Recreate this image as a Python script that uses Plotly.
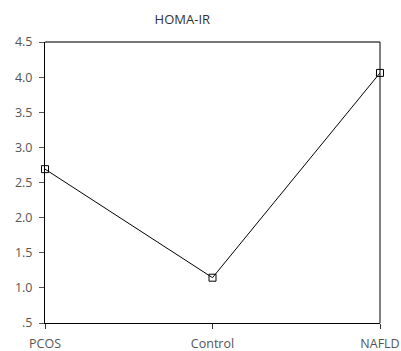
import plotly.graph_objects as go

categories = ["PCOS", "Control", "NAFLD"]
homa_ir = [2.69, 1.145, 4.06]
y_ticks = [0.5, 1.0, 1.5, 2.0, 2.5, 3.0, 3.5, 4.0, 4.5]
y_tick_labels = [".5", "1.0", "1.5", "2.0", "2.5", "3.0", "3.5", "4.0", "4.5"]

xpos = list(range(len(categories)))

fig = go.Figure()
fig.add_trace(go.Scatter(
    x=xpos, y=homa_ir, mode="lines+markers",
    line=dict(color="black", width=1),
    marker=dict(symbol="square-open", size=7, color="black", line=dict(width=1)),
    cliponaxis=False, showlegend=False,
))

font = dict(family="Open Sans, Noto Sans, sans-serif", size=12.5, color="#555555")

fig.update_layout(
    width=401, height=351,
    margin=dict(l=45, r=21, t=42, b=28),
    paper_bgcolor="white", plot_bgcolor="white",
    font=font,
    title=dict(text="HOMA-IR", x=0.41, xref="paper", xanchor="center",
               y=1 - 19/351, yref="container", yanchor="middle",
               font=dict(family="Open Sans, Noto Sans, sans-serif", size=13, color="#333333")),
    xaxis=dict(range=[0, len(categories) - 1], tickvals=xpos, ticktext=categories,
               showgrid=False, zeroline=False, showline=True, linecolor="black", linewidth=1,
               ticks="outside", ticklen=5, tickcolor="#333333", tickfont=font,
               ticklabelstandoff=4, automargin=False),
    yaxis=dict(range=[0.5, 4.5], tickvals=y_ticks, ticktext=y_tick_labels,
               showgrid=False, zeroline=False, showline=True, linecolor="black", linewidth=1,
               ticks="outside", ticklen=5, tickcolor="#555555", tickfont=font,
               ticklabelstandoff=4, automargin=False),
    shapes=[
        dict(type="line", xref="paper", yref="paper", x0=0, x1=1, y0=1, y1=1,
             line=dict(color="#777777", width=2)),
        dict(type="line", xref="paper", yref="paper", x0=1, x1=1, y0=0, y1=1,
             line=dict(color="black", width=1)),
    ],
)

fig.write_html("out.html")
